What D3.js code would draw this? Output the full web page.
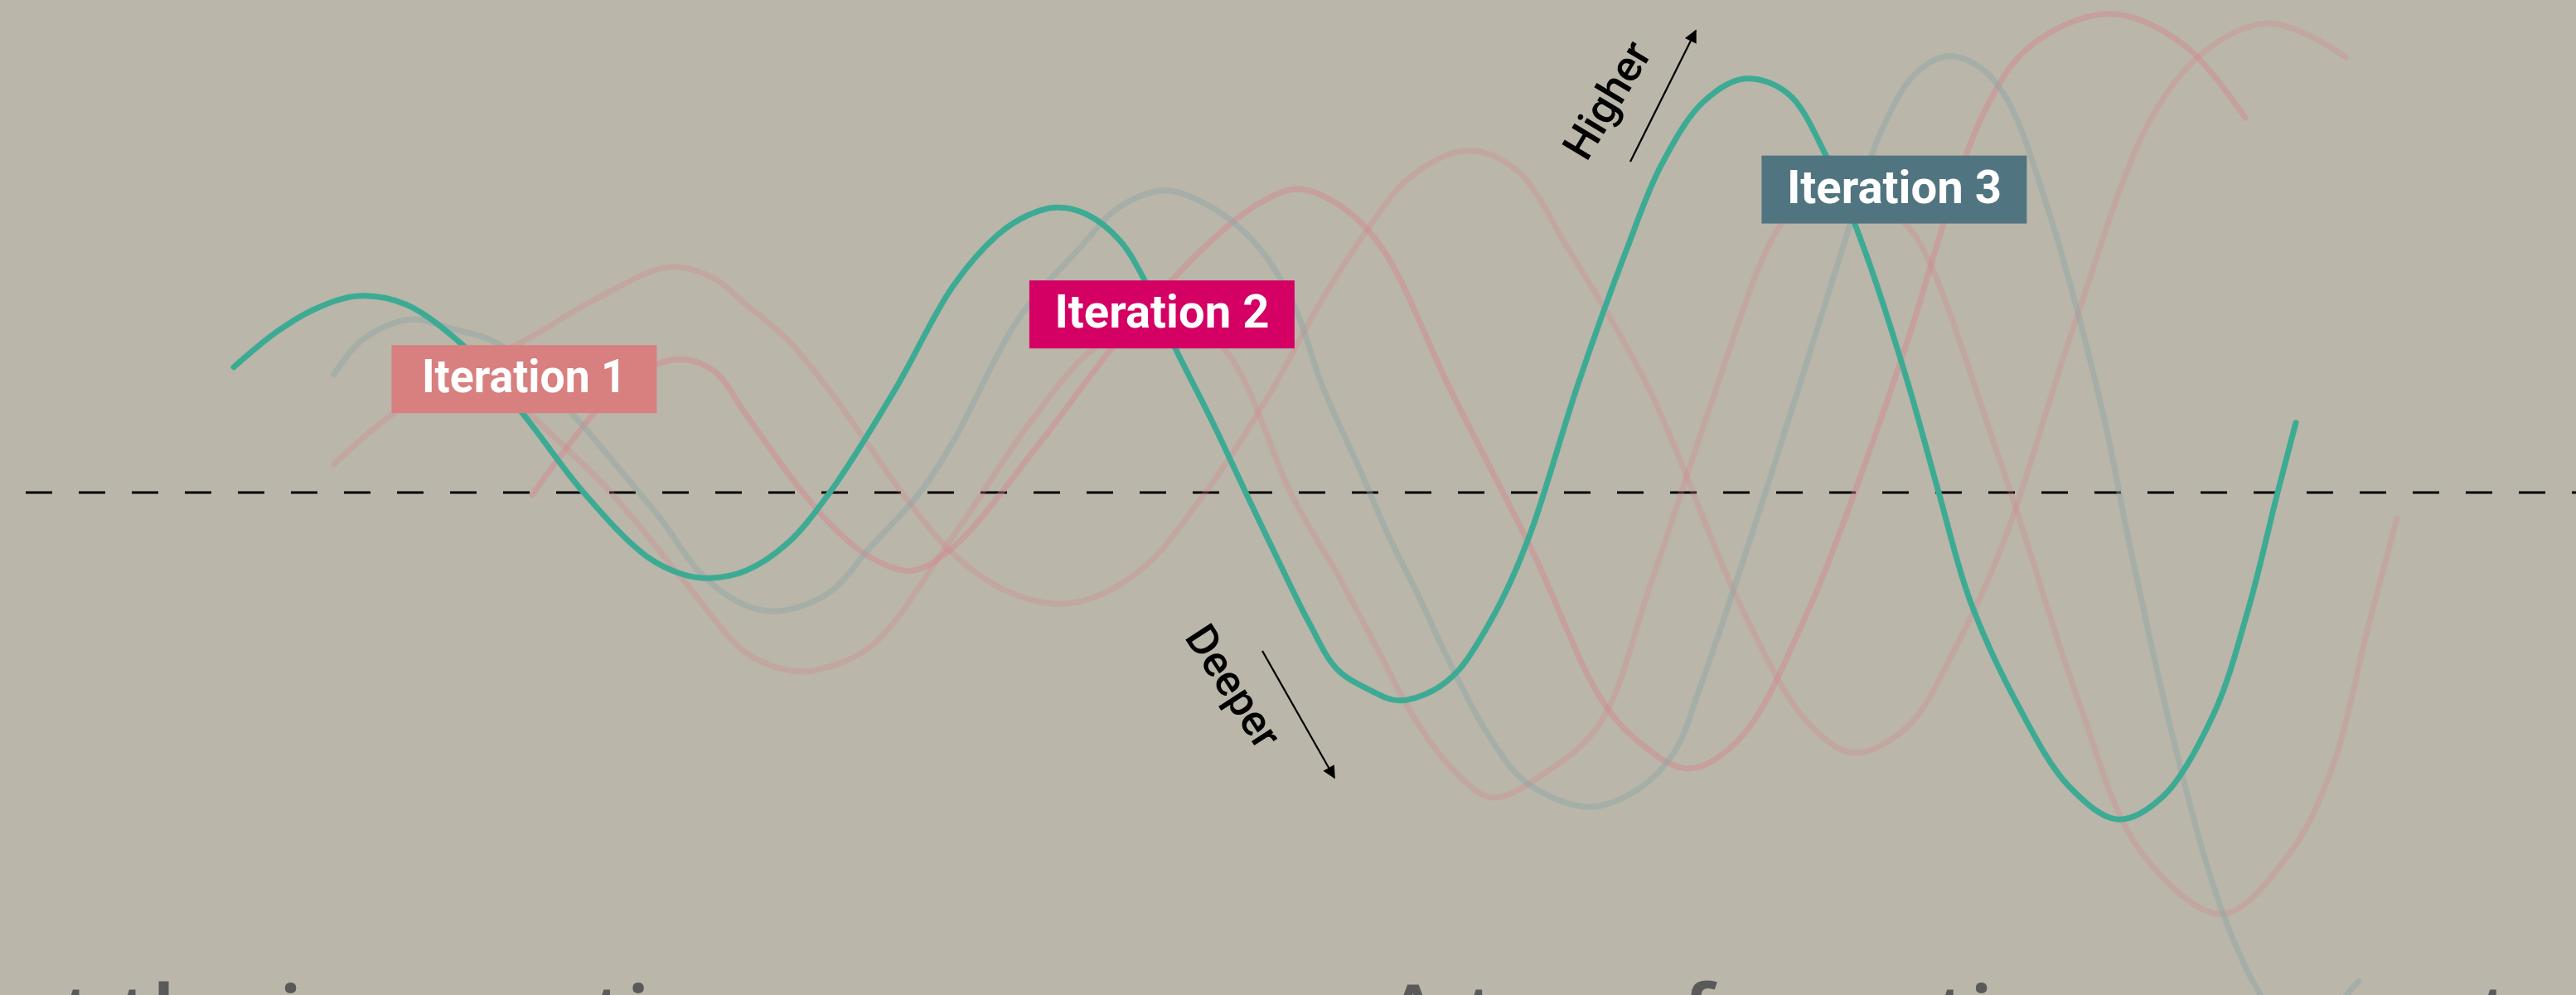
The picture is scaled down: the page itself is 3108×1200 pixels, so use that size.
<!DOCTYPE html>
<html>
<head>
<meta charset="utf-8">
<script src="https://cdn.jsdelivr.net/npm/d3@7"></script>
<style>
  html, body { margin: 0; padding: 0; background: #bab6aa; overflow: hidden; }
  svg { display: block; }
</style>
</head>
<body>
<div id="chart"></div>
<script>
// wave iterations, x in time units, y in depth units (0 = reference line)
var iteration3 = [[9.4,2.52],[11.13,3.23],[12.63,3.68],[14.4,3.95],[16.33,3.78],[18.57,2.98],[20.97,1.62],[23.47,0],[26.0,-1.28],[27.5,-1.65],[28.53,-1.72],[30.0,-1.57],[31.67,-1.02],[33.37,0],[36.0,2.07],[38.33,4.15],[40.13,5.18],[41.33,5.57],[42.5,5.73],[43.67,5.6],[45.03,5.07],[46.07,4.23],[47.27,2.9],[48.73,1.45],[50.1,0],[51.27,-1.22],[52.63,-2.6],[53.77,-3.55],[55.13,-3.98],[56.23,-4.18],[57.63,-3.98],[58.7,-3.55],[59.87,-2.65],[60.77,-1.77],[61.67,-0.65],[63.5,2.23],[65.43,4.9],[66.8,6.57],[68.5,7.85],[70.2,8.32],[71.9,8.02],[73.43,6.78],[74.97,4.9],[76.67,2.3],[77.97,0],[79.23,-2.17],[81.13,-4.25],[83.2,-5.9],[85.17,-6.57],[86.97,-6.12],[89.03,-4.45],[90.4,-2.38],[91.6,0],[92.33,1.4]];
var ghostGray = [[13.43,2.37],[14.57,3.07],[16.5,3.48],[18.27,3.28],[20.07,2.98],[23.03,1.57],[24.83,0.52],[26.6,-0.55],[28.23,-1.65],[30.0,-2.27],[31.37,-2.38],[33.33,-2.02],[35.0,-1.1],[37.0,0],[38.33,1.02],[41.0,3.52],[43.4,4.9],[45.0,5.73],[46.9,6.07],[49.0,5.65],[50.67,4.9],[52.03,3.78],[53.2,2.12],[54.7,0.45],[55.9,-0.93],[57.07,-2.1],[58.4,-3.52],[59.87,-4.88],[61.37,-5.82],[63.83,-6.32],[65.83,-5.98],[67.33,-5.22],[68.33,-3.98],[71.0,0],[74.1,4.9],[75.63,7.23],[77.0,8.4],[78.37,8.77],[79.67,8.53],[80.8,7.83],[82.33,5.75],[83.53,3.68],[84.73,1.25],[85.6,-0.93],[87.33,-4.8],[89.03,-7.92],[90.4,-9.63],[91.67,-10.63],[92.67,-10.9],[93.67,-10.57],[94.37,-10.1],[94.87,-9.82]];
var ghostPinkA = [[18.0,2.32],[20.97,3.02],[24.0,3.9],[26.9,4.53],[28.67,4.32],[30.0,3.78],[31.67,3.07],[33.33,2.07],[35.0,0.9],[36.67,-0.27],[38.33,-1.23],[40.67,-2.02],[43.1,-2.22],[45.77,-1.6],[48.33,-0.1],[50.97,1.9],[53.0,3.73],[54.7,5.07],[56.67,6.32],[59.0,6.87],[61.0,6.48],[63.07,4.9],[66.33,2.07],[70.0,-2.27],[72.67,-4.6],[74.53,-5.23],[76.67,-4.73],[78.67,-3.1],[80.63,-0.93],[83.33,3.23],[86.47,7.48],[88.67,8.87],[91.1,9.43],[93.0,9.15],[94.33,8.75]];
var ghostPinkB = [[13.43,0.57],[15.9,1.62],[18.33,2.32],[19.67,2.4],[21.23,1.62],[24.53,0.02],[27.5,-1.77],[30.0,-3.22],[31.67,-3.57],[32.7,-3.58],[35.0,-3.1],[38.33,-0.88],[41.67,1.57],[44.0,2.9],[46.67,3.57],[49.2,2.9],[52.0,-0.1],[53.93,-1.77],[55.4,-3.15],[56.9,-4.55],[58.4,-5.55],[60.0,-6.13],[62.1,-5.65],[64.33,-4.65],[66.43,-1.77],[68.67,1.57],[71.07,4.9],[71.9,5.52],[74.0,5.98],[76.33,5.52],[77.33,4.9],[80.37,0.73],[81.47,-0.93],[83.53,-4.1],[86.1,-7.22],[89.37,-8.47],[92.13,-7.22],[93.83,-5.48],[95.23,-2.72],[96.4,-0.52]];
var ghostPinkC = [[21.4,-0.05],[22.67,0.82],[23.93,1.62],[25.27,2.28],[27.27,2.68],[28.7,2.45],[30.0,1.57],[31.67,0.4],[33.33,-0.6],[35.0,-1.3],[36.67,-1.57],[38.33,-1.1],[41.67,0.9],[45.0,3.07],[48.73,5.07],[50.67,5.82],[52.2,6.1],[54.0,5.73],[55.6,4.9],[58.33,2.07],[61.67,-1.22],[64.33,-4.1],[65.83,-4.98],[67.9,-5.55],[70.0,-4.93],[72.67,-2.43],[75.0,0.57],[76.67,2.98],[79.77,7.62],[81.67,8.98],[84.83,9.62],[87.83,9.0],[90.3,7.53]];

var labels = ["Iteration 1", "Iteration 2", "Iteration 3"];
var labelAt = [[21.08,2.28],[46.73,3.58],[76.18,6.09]];
var labelColors = ["#d7807f", "#d40063", "#517580"];

var captionLeft = "must the incarnation";
var captionRight = ["A transformation across one ", "to"];

var width = 3108, height = 1200;

var x = d3.scaleLinear().domain([0, 103.6]).range([0, width]);
var y = d3.scaleLinear().domain([-11, 9.9]).range([1254, 0]);

var svg = d3.select("#chart").append("svg")
    .attr("width", width)
    .attr("height", height);

svg.append("rect").attr("width", width).attr("height", height).attr("fill", "#bab6aa");

var defs = svg.append("defs");
defs.append("marker")
    .attr("id", "head")
    .attr("viewBox", "0 0 10 10")
    .attr("refX", 9).attr("refY", 5)
    .attr("markerWidth", 9).attr("markerHeight", 7)
    .attr("markerUnits", "strokeWidth")
    .attr("orient", "auto")
  .append("path")
    .attr("d", "M0,0 L10,5 L0,10 Z")
    .attr("fill", "#000");

// reference line
svg.append("line")
    .attr("x1", 31).attr("x2", width)
    .attr("y1", y(0)).attr("y2", y(0))
    .attr("stroke", "#000")
    .attr("stroke-width", 3)
    .attr("stroke-dasharray", "32,32");

var line = d3.line()
    .x(function(d){ return x(d[0]); })
    .y(function(d){ return y(d[1]); })
    .curve(d3.curveCatmullRom.alpha(0.5));

var series = [
  {data: ghostPinkA, color: "#d4868c", op: 0.3},
  {data: ghostPinkB, color: "#d4868c", op: 0.3},
  {data: ghostPinkC, color: "#d4868c", op: 0.45},
  {data: ghostGray, color: "#8fa3a6", op: 0.45},
  {data: iteration3, color: "#3dab94", op: 1}
];

svg.selectAll(".wave")
    .data(series)
    .enter()
    .append("path")
    .attr("class", "wave")
    .attr("d", function(d){ return line(d.data); })
    .attr("fill", "none")
    .attr("stroke", function(d){ return d.color; })
    .attr("stroke-opacity", function(d){ return d.op; })
    .attr("stroke-width", 7)
    .attr("stroke-linecap", "round");

// iteration labels
var tag = svg.selectAll(".tag")
    .data(labels)
    .enter()
    .append("g")
    .attr("class", "tag")
    .attr("transform", function(d, i){ return "translate(" + x(labelAt[i][0]) + "," + y(labelAt[i][1]) + ")"; });

tag.append("rect")
    .attr("x", -160).attr("y", -41)
    .attr("width", 320).attr("height", 82)
    .attr("fill", function(d, i){ return labelColors[i]; });

tag.append("text")
    .attr("text-anchor", "middle")
    .attr("y", 16)
    .attr("fill", "#fff")
    .attr("font-family", "Roboto, 'Open Sans', sans-serif")
    .attr("font-weight", 700)
    .attr("font-size", 56)
    .attr("textLength", function(d, i){ return i == 0 ? 247 : 259; })
    .attr("lengthAdjust", "spacingAndGlyphs")
    .text(function(d){ return d; });

// direction hints
svg.append("line")
    .attr("x1", 1967).attr("y1", 195).attr("x2", 2046).attr("y2", 37)
    .attr("stroke", "#000").attr("stroke-width", 2.2)
    .attr("marker-end", "url(#head)");
svg.append("text")
    .attr("transform", "translate(1939,121) rotate(-59)")
    .attr("text-anchor", "middle")
    .attr("dominant-baseline", "central")
    .attr("font-family", "Roboto, sans-serif")
    .attr("font-weight", 500)
    .attr("font-size", 52)
    .attr("fill", "#000")
    .text("Higher");

svg.append("line")
    .attr("x1", 1523).attr("y1", 785).attr("x2", 1610).attr("y2", 938)
    .attr("stroke", "#000").attr("stroke-width", 2.2)
    .attr("marker-end", "url(#head)");
svg.append("text")
    .attr("transform", "translate(1488,828) rotate(57)")
    .attr("text-anchor", "middle")
    .attr("dominant-baseline", "central")
    .attr("font-family", "Roboto, sans-serif")
    .attr("font-weight", 500)
    .attr("font-size", 52)
    .attr("fill", "#000")
    .text("Deeper");

// caption lines, cut by the bottom edge
function caption() {
  return svg.append("text")
    .attr("y", 1262)
    .attr("font-family", "'Open Sans', sans-serif")
    .attr("font-weight", 600)
    .attr("font-size", 104)
    .attr("fill", "#5a5a5a");
}

var capL = caption().text(captionLeft);
capL.attr("x", 183 - capL.node().getSubStringLength(0, 6));

var capR = caption();
capR.append("tspan").text(captionRight[0]);
var tail = capR.append("tspan").text(captionRight[1]);
capR.attr("x", 1705 - capR.node().getSubStringLength(0, 1) / 2);
var tailStart = capR.node().getStartPositionOfChar(captionRight[0].length).x;
tail.attr("dx", 2990 - tailStart);
</script>
</body>
</html>
